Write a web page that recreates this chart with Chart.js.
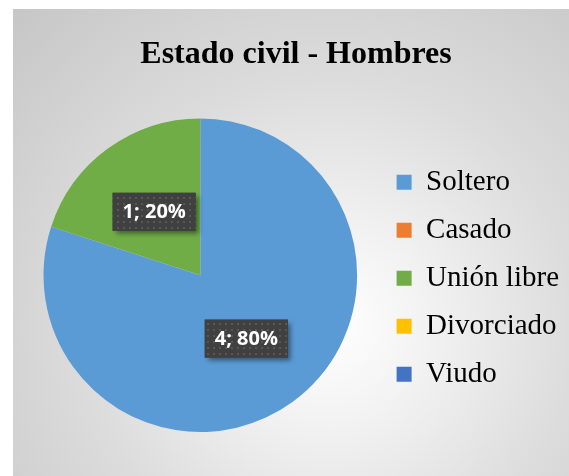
<!DOCTYPE html>
<html>
<head>
<meta charset="utf-8">
<script src="https://cdn.jsdelivr.net/npm/chart.js@4/dist/chart.umd.min.js"></script>
<style>
    html, body {
        margin: 0;
        padding: 0;
        background: #ffffff;
        width: 569px;
        height: 476px;
        overflow: hidden;
    }

    #caja {
        position: absolute;
        left: 13px;
        top: 9px;
        width: 556px;
        height: 467px;
        background: radial-gradient(ellipse farthest-corner at 57% 68%, #ffffff 0%, #f2f2f2 22%, #dcdcdc 55%, #c6c6c6 100%);
    }
</style>
</head>
<body>
<div id="caja">
    <canvas id="graficoCivil" width="556" height="467"></canvas>
</div>

<script>
const categorias = ["Soltero", "Casado", "Unión libre", "Divorciado", "Viudo"];
const hombres = [4, 0, 1, 0, 0];
const colores = ["#5B9BD5", "#ED7D31", "#70AD47", "#FFC000", "#4472C4"];

// fondo oscuro punteado de las etiquetas
const trama = document.createElement("canvas");
trama.width = 6;
trama.height = 6;
const tctx = trama.getContext("2d");
tctx.fillStyle = "#404040";
tctx.fillRect(0, 0, 6, 6);
tctx.fillStyle = "#575757";
tctx.fillRect(2, 2, 2, 2);

const etiquetas = {
    id: "etiquetas",
    afterDatasetsDraw(chart) {
        const ctx = chart.ctx;
        const meta = chart.getDatasetMeta(0);
        const datos = chart.data.datasets[0].data;
        const total = datos.reduce((a, b) => a + b, 0);

        ctx.save();
        ctx.font = "bold 20px 'Open Sans'";
        ctx.textAlign = "center";
        ctx.textBaseline = "middle";

        meta.data.forEach((arco, i) => {
            if (!datos[i]) return;
            const pos = arco.tooltipPosition();
            const texto = datos[i] + "; " + Math.round(datos[i] / total * 100) + "%";
            const ancho = ctx.measureText(texto).width + 20;
            const alto = 38;
            const x = pos.x - ancho / 2;
            const y = pos.y - alto / 2;

            ctx.save();
            ctx.shadowColor = "rgba(0,0,0,0.45)";
            ctx.shadowBlur = 5;
            ctx.shadowOffsetX = 3;
            ctx.shadowOffsetY = 3;
            ctx.fillStyle = "#404040";
            ctx.fillRect(x, y, ancho, alto);
            ctx.restore();

            ctx.fillStyle = ctx.createPattern(trama, "repeat");
            ctx.fillRect(x, y, ancho, alto);

            ctx.fillStyle = "#ffffff";
            ctx.fillText(texto, pos.x, pos.y + 1);
        });

        ctx.restore();
    }
};

const civil = document.getElementById("graficoCivil");

new Chart(civil, {
    type: "pie",

    data: {
        labels: categorias,

        datasets: [{
            data: hombres,
            backgroundColor: colores,
            borderWidth: 0
        }]
    },

    options: {
        responsive: false,
        animation: false,

        layout: {
            padding: {
                left: 10,
                right: 0,
                top: 0,
                bottom: 44
            }
        },

        plugins: {
            title: {
                display: true,
                text: "Estado civil - Hombres",
                color: "#000000",
                font: {
                    family: "'Liberation Serif'",
                    size: 32,
                    weight: "bold"
                },
                padding: {
                    top: 27,
                    bottom: 44
                }
            },

            legend: {
                position: "right",
                fullSize: false,
                title: {
                    display: true,
                    text: "",
                    padding: 0,
                    font: {
                        size: 5
                    }
                },
                labels: {
                    color: "#000000",
                    boxWidth: 15,
                    boxHeight: 15,
                    padding: 19,
                    font: {
                        family: "'Liberation Serif'",
                        size: 29
                    }
                }
            },

            tooltip: {
                enabled: false
            }
        }
    },

    plugins: [etiquetas]
});
</script>
</body>
</html>
